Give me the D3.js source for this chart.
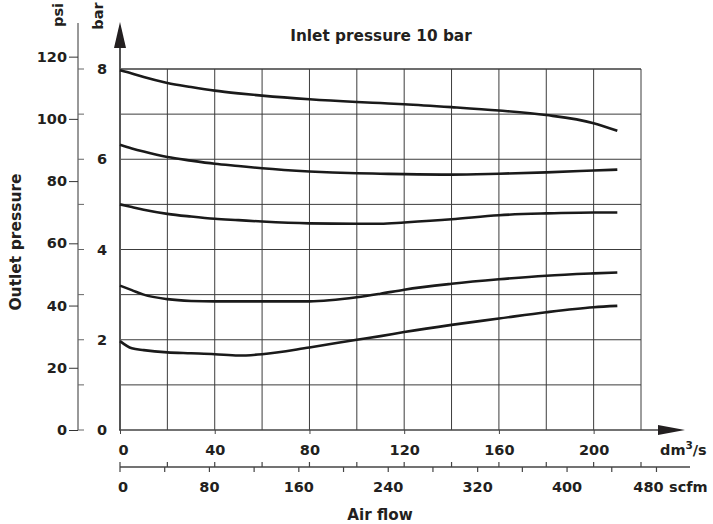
<!DOCTYPE html>
<html>
<head>
<meta charset="utf-8">
<script src="https://cdn.jsdelivr.net/npm/d3@7"></script>
<style>
  html, body { margin: 0; padding: 0; background: #fff; }
  svg { display: block; }
  text { font-family: "DejaVu Sans", "Liberation Sans", Arial, sans-serif; font-weight: bold; fill: #231f20; }
</style>
</head>
<body>
<svg id="chart" width="713" height="524"></svg>
<script>
// ---------- data ----------
const flow = [0, 5, 10, 20, 30, 40, 50, 60, 80, 100, 110, 120, 140, 160, 180, 200, 210]; // dm3/s
const outlet8 = [7.97, 7.90, 7.82, 7.69, 7.60, 7.52, 7.46, 7.41, 7.33, 7.27, 7.245, 7.22, 7.155, 7.08, 6.98, 6.80, 6.63];
const outlet6 = [6.32, 6.24, 6.17, 6.05, 5.97, 5.90, 5.85, 5.80, 5.73, 5.69, 5.68, 5.67, 5.66, 5.68, 5.71, 5.75, 5.77];
const outlet5 = [5.00, 4.94, 4.88, 4.79, 4.73, 4.68, 4.65, 4.62, 4.58, 4.57, 4.57, 4.60, 4.67, 4.76, 4.80, 4.82, 4.82];
const outlet3 = [3.20, 3.10, 3.00, 2.90, 2.86, 2.85, 2.85, 2.85, 2.85, 2.94, 3.02, 3.11, 3.24, 3.34, 3.42, 3.47, 3.49];
const outlet2 = [1.97, 1.81, 1.77, 1.72, 1.70, 1.68, 1.65, 1.68, 1.83, 2.00, 2.08, 2.17, 2.33, 2.47, 2.61, 2.72, 2.75];
const seriesList = [outlet8, outlet6, outlet5, outlet3, outlet2];

const barLabelTicks = [0, 2, 4, 6, 8];
const barGrid = [0, 1, 2, 3, 4, 5, 6, 7, 8];
const psiTicks = [0, 20, 40, 60, 80, 100, 120];
const flowGrid = [0, 20, 40, 60, 80, 100, 120, 140, 160, 180, 200, 220];
const flowLabelTicks = [0, 40, 80, 120, 160, 200];
const scfmTicks = [0, 40, 80, 120, 160, 200, 240, 280, 320, 360, 400, 440, 480];
const scfmLabelTicks = [0, 80, 160, 240, 320, 400, 480];

const title = "Inlet pressure 10 bar";
const BAR_TO_PSI = 14.5038;
const DM3S_TO_SCFM = 2.11888;

// ---------- scales ----------
const x = d3.scaleLinear().domain([0, 220]).range([120, 641]);
const y = d3.scaleLinear().domain([0, 8]).range([430, 69]);
const yPsi = d3.scaleLinear().domain([0, 8 * BAR_TO_PSI]).range([430, 69]);
const xScfm = d3.scaleLinear().domain([0, 220 * DM3S_TO_SCFM]).range([120, 641]);

const svg = d3.select("#chart");
const ink = "#231f20";
const gridCol = "#3c3c3c";
const fs = "14.5px";

// ---------- grid ----------
const grid = svg.append("g");
grid.selectAll("line.h").data(barGrid.filter(d => d > 0)).join("line")
  .attr("x1", x(0)).attr("x2", x(220))
  .attr("y1", d => y(d)).attr("y2", d => y(d))
  .attr("stroke", gridCol).attr("stroke-width", d => d === 8 ? 1.6 : 1);
grid.selectAll("line.v").data(flowGrid.filter(d => d > 0)).join("line")
  .attr("x1", d => x(d)).attr("x2", d => x(d))
  .attr("y1", y(0)).attr("y2", y(8))
  .attr("stroke", gridCol).attr("stroke-width", 1);

// ---------- main axes with arrows ----------
svg.append("line").attr("x1", x(0)).attr("x2", x(0)).attr("y1", y(0)).attr("y2", 46)
  .attr("stroke", "#555").attr("stroke-width", 2);
svg.append("path").attr("d", `M${x(0)},22 L${x(0) - 6},48 L${x(0) + 6},48 Z`).attr("fill", ink);
svg.append("line").attr("x1", x(0) - 1).attr("x2", 660).attr("y1", y(0)).attr("y2", y(0))
  .attr("stroke", "#444").attr("stroke-width", 1.5);
svg.append("path").attr("d", `M685,${y(0)} L658,${y(0) - 5} L658,${y(0) + 5} Z`).attr("fill", ink);

// bar labels
svg.append("g").selectAll("text").data(barLabelTicks).join("text")
  .attr("x", 102).attr("y", d => y(d)).attr("dy", "0.36em")
  .attr("text-anchor", "middle").style("font-size", fs).text(d => d);

// flow axis ticks (downward) + labels
const flowAxis = d3.axisBottom(x).tickValues(flowLabelTicks).tickSize(4).tickSizeOuter(0).tickFormat(d3.format("d"));
const gFlow = svg.append("g").attr("transform", `translate(0,${y(0)})`).call(flowAxis);
gFlow.select(".domain").remove();
gFlow.selectAll(".tick line").attr("stroke", "#444");
gFlow.selectAll(".tick text").attr("y", 25).attr("dy", 0).attr("dx", d => d === 0 ? 3 : 0)
  .style("font-size", fs).style("font-family", null).attr("fill", ink);
svg.append("text").attr("x", 660).attr("y", 455).style("font-size", fs)
  .html('dm<tspan dy="-6" style="font-size:10.5px">3</tspan><tspan dy="6">/s</tspan>');

// ---------- psi axis ----------
const psiAxis = d3.axisLeft(yPsi).tickValues(psiTicks).tickSize(9).tickPadding(2).tickSizeOuter(0);
const gPsi = svg.append("g").attr("transform", "translate(78,0)").call(psiAxis);
gPsi.select(".domain").remove();
gPsi.selectAll(".tick line").attr("stroke", "#333");
gPsi.selectAll(".tick text").style("font-size", fs).style("font-family", null).attr("fill", ink);
svg.append("line").attr("x1", 78).attr("x2", 78).attr("y1", 23).attr("y2", 430)
  .attr("stroke", "#333").attr("stroke-width", 1);
svg.append("g").selectAll("line").data(barGrid).join("line")
  .attr("x1", 78).attr("x2", 84).attr("y1", d => y(d)).attr("y2", d => y(d))
  .attr("stroke", "#666").attr("stroke-width", 1);

// ---------- scfm axis ----------
const yS = 467;
svg.append("line").attr("x1", 120).attr("x2", 690).attr("y1", yS).attr("y2", yS)
  .attr("stroke", "#444").attr("stroke-width", 1.3);
svg.append("g").selectAll("line").data(flowGrid).join("line")
  .attr("x1", d => x(d)).attr("x2", d => x(d)).attr("y1", yS - 5).attr("y2", yS)
  .attr("stroke", "#444").attr("stroke-width", 1.2);
svg.append("g").selectAll("line").data(scfmTicks).join("line")
  .attr("x1", d => xScfm(d)).attr("x2", d => xScfm(d)).attr("y1", yS).attr("y2", yS + 5)
  .attr("stroke", "#444").attr("stroke-width", 1.2);
svg.append("g").selectAll("text").data(scfmLabelTicks).join("text")
  .attr("x", d => xScfm(d) + (d === 480 ? -8 : d === 0 ? 3 : 0)).attr("y", 492)
  .attr("text-anchor", "middle").style("font-size", fs).text(d => d);
svg.append("text").attr("x", 669).attr("y", 492).style("font-size", fs).text("scfm");

// ---------- curves ----------
const line = d3.line().x(d => x(d[0])).y(d => y(d[1])).curve(d3.curveMonotoneX);
svg.append("g").selectAll("path").data(seriesList).join("path")
  .attr("d", s => line(flow.map((f, i) => [f, s[i]])))
  .attr("fill", "none").attr("stroke", "#1a1a1a").attr("stroke-width", 2.6)
  .attr("stroke-linecap", "butt");

// ---------- titles ----------
svg.append("text").attr("x", 381).attr("y", 41).attr("text-anchor", "middle")
  .style("font-size", "15.3px").text(title);
svg.append("text").attr("transform", "translate(21,242) rotate(-90)").attr("text-anchor", "middle")
  .style("font-size", "15.5px").text("Outlet pressure");
svg.append("text").attr("transform", "translate(63,15) rotate(-90)").attr("text-anchor", "middle")
  .style("font-size", fs).text("psi");
svg.append("text").attr("transform", "translate(103,16) rotate(-90)").attr("text-anchor", "middle")
  .style("font-size", fs).text("bar");
svg.append("text").attr("x", 380).attr("y", 520).attr("text-anchor", "middle")
  .style("font-size", "15.2px").text("Air flow");
</script>
</body>
</html>
